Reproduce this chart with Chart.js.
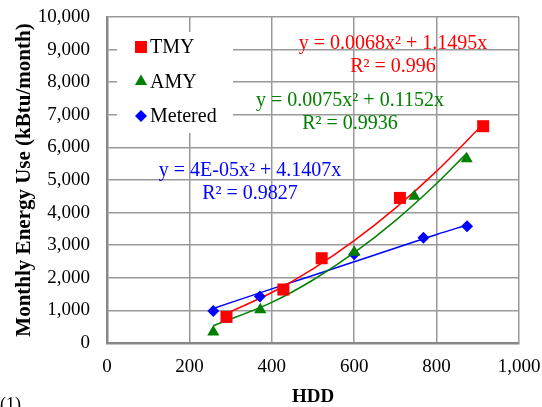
<!DOCTYPE html>
<html>
<head>
<meta charset="utf-8">
<script src="https://cdn.jsdelivr.net/npm/chart.js@4/dist/chart.umd.min.js"></script>
<style>
  html, body { margin: 0; padding: 0; background: #fff; }
</style>
</head>
<body>
<canvas id="chart" width="542" height="407"></canvas>
<script>
// Monthly energy use vs heating degree days
const tmyHdd = [290, 428, 521, 711, 913];
const tmyUse = [800, 1640, 2600, 4450, 6650];

const amyHdd = [258, 372, 600, 746, 873];
const amyUse = [340, 1020, 2780, 4500, 5650];

const meteredHdd = [258, 371, 600, 768, 874];
const meteredUse = [980, 1430, 2720, 3230, 3580];

// Trendline points (polynomial fits shown on the chart)
const tmyTrendHdd = [290, 400, 500, 600, 700, 800, 913];
const tmyTrendUse = [905, 1548, 2275, 3138, 4137, 5272, 6718];

const amyTrendHdd = [258, 400, 500, 600, 700, 800, 873];
const amyTrendUse = [529, 1246, 1933, 2769, 3756, 4892, 5817];

const meteredTrendHdd = [258, 400, 600, 800, 874];
const meteredTrendUse = [1060, 1660, 2490, 3330, 3620];

const legendLabels = ['TMY', 'AMY', 'Metered'];
const eqLabels = [
    ['y = 0.0068x\u00B2 + 1.1495x', 'R\u00B2 = 0.996'],
    ['y = 0.0075x\u00B2 + 0.1152x', 'R\u00B2 = 0.9936'],
    ['y = 4E-05x\u00B2 + 4.1407x', 'R\u00B2 = 0.9827']
];

const RED = '#ff0000';
const GREEN = '#008000';
const BLUE = '#0000ff';
const SERIF = '"Liberation Serif", "Times New Roman", serif';

const toPoints = (xs, ys) => xs.map((x, i) => ({ x: x, y: ys[i] }));

const markerSet = (label, xs, ys, color, style, radius) => ({
    label: label,
    data: toPoints(xs, ys),
    showLine: false,
    pointStyle: style,
    pointRadius: radius,
    pointHoverRadius: radius,
    backgroundColor: color,
    borderColor: color,
    borderWidth: 0
});

const trendSet = (xs, ys, color) => ({
    label: '',
    data: toPoints(xs, ys),
    showLine: true,
    pointRadius: 0,
    borderColor: color,
    borderWidth: 1.5,
    cubicInterpolationMode: 'monotone',
    fill: false
});

// legend box and equation labels drawn inside the plot
const overlay = {
    id: 'overlay',
    beforeDatasetsDraw(chart) {
        const ctx = chart.ctx;
        const area = chart.chartArea;
        ctx.save();
        ctx.fillStyle = '#fff';
        ctx.fillRect(area.left + 10, area.top + 15, 116, 101);
        const styles = [['rect', RED, 8.5], ['triangle', GREEN, 7], ['rectRot', BLUE, 6]];
        ctx.font = '20px ' + SERIF;
        ctx.textBaseline = 'middle';
        legendLabels.forEach((txt, i) => {
            const y = area.top + 30 + i * 34.5;
            ctx.fillStyle = styles[i][1];
            Chart.helpers.drawPoint(ctx, { pointStyle: styles[i][0], radius: styles[i][2], rotation: 0, borderWidth: 0 }, area.left + 34, y);
            ctx.fillStyle = '#000';
            ctx.textAlign = 'left';
            ctx.fillText(txt, area.left + 43, y + 1);
        });
        ctx.restore();
    },
    afterDraw(chart) {
        const ctx = chart.ctx;
        const area = chart.chartArea;
        ctx.save();
        ctx.font = '20px ' + SERIF;
        ctx.textAlign = 'center';
        ctx.textBaseline = 'middle';
        const spots = [[RED, 286, 27], [GREEN, 243, 84], [BLUE, 143, 154]];
        eqLabels.forEach((lines, i) => {
            ctx.fillStyle = spots[i][0];
            ctx.fillText(lines[0], area.left + spots[i][1], area.top + spots[i][2]);
            ctx.fillText(lines[1], area.left + spots[i][1], area.top + spots[i][2] + 23);
        });
        ctx.fillStyle = '#000';
        ctx.font = '18px ' + SERIF;
        ctx.textAlign = 'left';
        ctx.textBaseline = 'top';
        ctx.fillText('(1)', 0, 396);
        ctx.restore();
    }
};

new Chart(document.getElementById('chart'), {
    type: 'scatter',
    data: {
        datasets: [
            markerSet('TMY', tmyHdd, tmyUse, RED, 'rect', 8.5),
            markerSet('AMY', amyHdd, amyUse, GREEN, 'triangle', 7),
            markerSet('Metered', meteredHdd, meteredUse, BLUE, 'rectRot', 6),
            trendSet(tmyTrendHdd, tmyTrendUse, RED),
            trendSet(amyTrendHdd, amyTrendUse, GREEN),
            trendSet(meteredTrendHdd, meteredTrendUse, BLUE)
        ]
    },
    options: {
        responsive: false,
        animation: false,
        layout: { padding: { left: 0, right: 23, top: 17, bottom: 0 } },
        plugins: {
            legend: { display: false },
            tooltip: { enabled: false }
        },
        scales: {
            x: {
                type: 'linear',
                min: 0,
                max: 1000,
                afterFit: (scale) => {
                    scale.height = 64;
                    scale.paddingLeft = 0;
                    scale.paddingRight = 0;
                },
                ticks: {
                    stepSize: 200,
                    padding: 13,
                    color: '#000',
                    font: { family: SERIF, size: 19 },
                    callback: (v) => v.toLocaleString('en-US')
                },
                grid: { color: '#999', lineWidth: 1.5, drawTicks: false },
                border: { color: '#888', width: 2.5 },
                title: {
                    display: true,
                    text: 'HDD',
                    color: '#000',
                    font: { family: SERIF, size: 19, weight: 'bold' },
                    padding: { top: 0, bottom: -1 }
                }
            },
            y: {
                type: 'linear',
                min: 0,
                max: 10000,
                afterFit: (scale) => {
                    scale.width = 107;
                    scale.paddingTop = 0;
                    scale.paddingBottom = 0;
                },
                ticks: {
                    stepSize: 1000,
                    padding: 17,
                    color: '#000',
                    font: { family: SERIF, size: 19 },
                    callback: (v) => v.toLocaleString('en-US')
                },
                grid: { color: '#999', lineWidth: 1.5, drawTicks: false },
                border: { color: '#888', width: 2.5 },
                title: {
                    display: true,
                    text: 'Monthly Energy Use (kBtu/month)',
                    color: '#000',
                    font: { family: SERIF, size: 21, weight: 'bold' },
                    padding: { top: 12, bottom: 0 }
                }
            }
        }
    },
    plugins: [overlay]
});
</script>
</body>
</html>
